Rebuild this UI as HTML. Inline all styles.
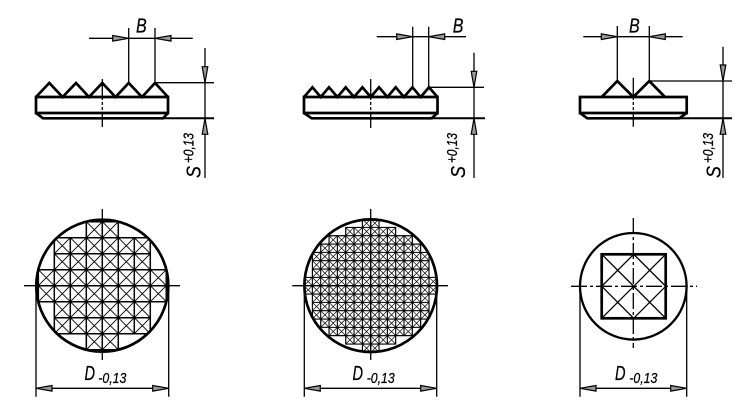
<!DOCTYPE html>
<html><head><meta charset="utf-8"><style>
html,body{margin:0;padding:0;background:#fff}
svg{display:block}
text{font-family:"Liberation Sans",sans-serif;font-style:italic;fill:#000;stroke:#000;stroke-width:.25}
.b{font-size:20.5px}.s{font-size:14.5px}
.t{stroke:#000;stroke-width:1.3;fill:none}
.k{stroke:#000;stroke-width:2.7;fill:none;stroke-linejoin:miter}
.m{stroke:#000;stroke-width:2;fill:none}
</style></head><body>
<svg width="750" height="415" viewBox="0 0 750 415" xmlns="http://www.w3.org/2000/svg">
<defs>
<g id="ar"><polygon points="-16,-2.8 -16,2.8 0,0" fill="#999" stroke="#000" stroke-width="1.2"/></g>
<clipPath id="c1"><circle cx="102.3" cy="285.7" r="66"/></clipPath>
<clipPath id="c2"><circle cx="370.7" cy="285.7" r="66.3"/></clipPath>
<clipPath id="g1"><polygon points="86.3,221.7 118.3,221.7 118.3,237.7 150.3,237.7 150.3,269.7 166.3,269.7 166.3,301.7 150.3,301.7 150.3,333.7 118.3,333.7 118.3,349.7 86.3,349.7 86.3,333.7 54.3,333.7 54.3,301.7 38.3,301.7 38.3,269.7 54.3,269.7 54.3,237.7 86.3,237.7"/></clipPath>
<clipPath id="g2"><polygon points="362.37,219.03 379.03,219.03 379.03,227.37 395.7,227.37 395.7,235.7 412.37,235.7 412.37,244.03 420.7,244.03 420.7,252.37 429.03,252.37 429.03,277.37 437.37,277.37 437.37,294.03 429.03,294.03 429.03,319.03 420.7,319.03 420.7,327.37 412.37,327.37 412.37,335.7 395.7,335.7 395.7,344.03 379.03,344.03 379.03,352.37 362.37,352.37 362.37,344.03 345.7,344.03 345.7,335.7 329.03,335.7 329.03,327.37 320.7,327.37 320.7,319.03 312.37,319.03 312.37,294.03 304.03,294.03 304.03,277.37 312.37,277.37 312.37,252.37 320.7,252.37 320.7,244.03 329.03,244.03 329.03,235.7 345.7,235.7 345.7,227.37 362.37,227.37"/></clipPath>
</defs>

<!-- LEFT TOP -->
<path class="k" d="M36 97L49.3 83L62.6 97L76 83L89 97L102.3 83L115.5 97L128.7 83L142 97L155 83L168 97"/>
<path class="k" d="M36 97H168V113H36Z"/>
<path class="k" d="M36 113L43 118.3H163L168 113"/>
<path class="t" d="M102.3 79V100M102.3 102V105M102.3 107V110M102.3 112V127"/>
<path class="t" d="M128.7 28V83M155 28V83M89 38.3H192.7M155 82.7H214M205 48V178"/>
<path class="m" d="M163 118.3H214"/>
<use href="#ar" transform="translate(128.7,38.3)"/>
<use href="#ar" transform="translate(155,38.3) rotate(180)"/>
<use href="#ar" transform="translate(205,82.7) rotate(90)"/>
<use href="#ar" transform="translate(205,118.3) rotate(-90)"/>
<text class="b" x="136" y="32.7" textLength="10.7" lengthAdjust="spacingAndGlyphs">B</text>
<text class="b" transform="translate(200.5,178) rotate(-90)" textLength="12" lengthAdjust="spacingAndGlyphs">S</text>
<text class="s" transform="translate(193.5,163) rotate(-90)" textLength="30" lengthAdjust="spacingAndGlyphs">+0,13</text>

<!-- MIDDLE TOP -->
<path class="k" d="M304 97L312.4 87.3L320.7 97L329 87.3L337.4 97L345.7 87.3L354 97L362.4 87.3L370.7 97L379 87.3L387.4 97L395.7 87.3L404 97L412.4 87.3L420.7 97L429 87.3L437.5 97"/>
<path class="k" d="M304 97H437.5V113H304Z"/>
<path class="k" d="M304 113L311.7 118.3H431.7L437.5 113"/>
<path class="t" d="M370.7 79V100M370.7 102V105M370.7 107V110M370.7 112V128"/>
<path class="t" d="M412.7 26.7V87.3M428.7 26.7V87.3M376.7 36.7H466M429 87.3H484M474 52.7V178"/>
<path class="m" d="M431 118.3H485"/>
<use href="#ar" transform="translate(412.7,36.7)"/>
<use href="#ar" transform="translate(428.7,36.7) rotate(180)"/>
<use href="#ar" transform="translate(474,87.3) rotate(90)"/>
<use href="#ar" transform="translate(474,118.3) rotate(-90)"/>
<text class="b" x="452.7" y="32.7" textLength="10.7" lengthAdjust="spacingAndGlyphs">B</text>
<text class="b" transform="translate(465,178) rotate(-90)" textLength="12" lengthAdjust="spacingAndGlyphs">S</text>
<text class="s" transform="translate(457,163) rotate(-90)" textLength="30" lengthAdjust="spacingAndGlyphs">+0,13</text>

<!-- RIGHT TOP -->
<path class="k" d="M601.7 97L617.3 81L633.3 97L649.3 81L665 97"/>
<path class="k" d="M580 97H686.7V113H580Z"/>
<path class="k" d="M580 113L587.3 118.3H679.3L686.7 113"/>
<path class="t" d="M633.3 77.7V100M633.3 102V105M633.3 107V110M633.3 112V126.7"/>
<path class="t" d="M617.3 26V81M649.3 26V81M583.3 36.7H682.7M649.3 81H732M723 46.7V178"/>
<path class="m" d="M679 118.3H732"/>
<use href="#ar" transform="translate(617.3,36.7)"/>
<use href="#ar" transform="translate(649.3,36.7) rotate(180)"/>
<use href="#ar" transform="translate(723,81) rotate(90)"/>
<use href="#ar" transform="translate(723,118.3) rotate(-90)"/>
<text class="b" x="629" y="32.5" textLength="10.7" lengthAdjust="spacingAndGlyphs">B</text>
<text class="b" transform="translate(720.5,178) rotate(-90)" textLength="12" lengthAdjust="spacingAndGlyphs">S</text>
<text class="s" transform="translate(713,163) rotate(-90)" textLength="30" lengthAdjust="spacingAndGlyphs">+0,13</text>

<!-- LEFT BOTTOM -->
<g clip-path="url(#c1)">
<g clip-path="url(#g1)" fill="none" stroke="#000">
<path stroke-width="160" stroke-dasharray="1.5 14.5" stroke-dashoffset=".75" d="M22.3 285.7H182.3"/>
<path stroke-width="160" stroke-dasharray="1.5 14.5" stroke-dashoffset=".75" d="M102.3 205.7V365.7"/>
<path stroke-width="240" stroke-dasharray=".9 10.414" stroke-dashoffset=".45" d="M22.3 365.7L182.3 205.7"/>
<path stroke-width="240" stroke-dasharray=".9 10.414" stroke-dashoffset=".45" d="M22.3 205.7L182.3 365.7"/>
</g>
<polygon fill="none" stroke="#000" stroke-width="1.5" points="86.3,221.7 118.3,221.7 118.3,237.7 150.3,237.7 150.3,269.7 166.3,269.7 166.3,301.7 150.3,301.7 150.3,333.7 118.3,333.7 118.3,349.7 86.3,349.7 86.3,333.7 54.3,333.7 54.3,301.7 38.3,301.7 38.3,269.7 54.3,269.7 54.3,237.7 86.3,237.7"/>
</g>
<path class="t" d="M24 285.7H180M102.3 209V360"/>
<circle cx="102.3" cy="285.7" r="66" fill="none" stroke="#000" stroke-width="2.7"/>
<path class="t" d="M36 286V396.7M168.7 286V396.7M36 388.3H168.7"/>
<use href="#ar" transform="translate(36,388.3) rotate(180)"/>
<use href="#ar" transform="translate(168.7,388.3)"/>
<text class="b" x="84.5" y="380" textLength="10.5" lengthAdjust="spacingAndGlyphs">D</text>
<text class="s" x="98.3" y="383" textLength="28" lengthAdjust="spacingAndGlyphs">-0,13</text>

<!-- MIDDLE BOTTOM -->
<g clip-path="url(#c2)">
<g clip-path="url(#g2)" fill="none" stroke="#000">
<path stroke-width="170" stroke-dasharray="1.1 7.233" stroke-dashoffset=".55" d="M287.37 285.7H454.03"/>
<path stroke-width="170" stroke-dasharray="1.1 7.233" stroke-dashoffset=".55" d="M370.7 202.37V369.03"/>
<path stroke-width="240" stroke-dasharray=".7 5.193" stroke-dashoffset=".35" d="M287.37 369.03L454.03 202.37"/>
<path stroke-width="240" stroke-dasharray=".7 5.193" stroke-dashoffset=".35" d="M287.37 202.37L454.03 369.03"/>
</g>
<polygon fill="none" stroke="#000" stroke-width="1.1" points="362.37,219.03 379.03,219.03 379.03,227.37 395.7,227.37 395.7,235.7 412.37,235.7 412.37,244.03 420.7,244.03 420.7,252.37 429.03,252.37 429.03,277.37 437.37,277.37 437.37,294.03 429.03,294.03 429.03,319.03 420.7,319.03 420.7,327.37 412.37,327.37 412.37,335.7 395.7,335.7 395.7,344.03 379.03,344.03 379.03,352.37 362.37,352.37 362.37,344.03 345.7,344.03 345.7,335.7 329.03,335.7 329.03,327.37 320.7,327.37 320.7,319.03 312.37,319.03 312.37,294.03 304.03,294.03 304.03,277.37 312.37,277.37 312.37,252.37 320.7,252.37 320.7,244.03 329.03,244.03 329.03,235.7 345.7,235.7 345.7,227.37 362.37,227.37"/>
</g>
<path class="t" d="M292.3 285.7H448M370.7 209V360"/>
<circle cx="370.7" cy="285.7" r="66.3" fill="none" stroke="#000" stroke-width="2.7"/>
<path class="t" d="M304.3 286V396.7M436.7 286V396.7M304.3 388.3H436.7"/>
<use href="#ar" transform="translate(304.3,388.3) rotate(180)"/>
<use href="#ar" transform="translate(436.7,388.3)"/>
<text class="b" x="352.5" y="380" textLength="10.5" lengthAdjust="spacingAndGlyphs">D</text>
<text class="s" x="366.7" y="383" textLength="28" lengthAdjust="spacingAndGlyphs">-0,13</text>

<!-- RIGHT BOTTOM -->
<circle cx="633.3" cy="286.3" r="53.3" fill="none" stroke="#000" stroke-width="2.3"/>
<path class="t" d="M601.7 254.3L665.7 318.3M665.7 254.3L601.7 318.3M633.7 254.3L665.7 286.3L633.7 318.3L601.7 286.3Z"/>
<rect x="601.7" y="254.3" width="64" height="64" fill="none" stroke="#000" stroke-width="2.7"/>
<path class="t" stroke-dasharray="16 3 3 3" d="M571 286.3H697"/>
<path class="t" stroke-dasharray="16 3 3 3" d="M633.3 218V348"/>
<path class="t" d="M580 292V396.7M686.7 292V396.7M580 388.3H686.7"/>
<use href="#ar" transform="translate(580,388.3) rotate(180)"/>
<use href="#ar" transform="translate(686.7,388.3)"/>
<text class="b" x="615" y="380" textLength="10.5" lengthAdjust="spacingAndGlyphs">D</text>
<text class="s" x="629.3" y="383" textLength="28" lengthAdjust="spacingAndGlyphs">-0,13</text>
</svg>
</body></html>
